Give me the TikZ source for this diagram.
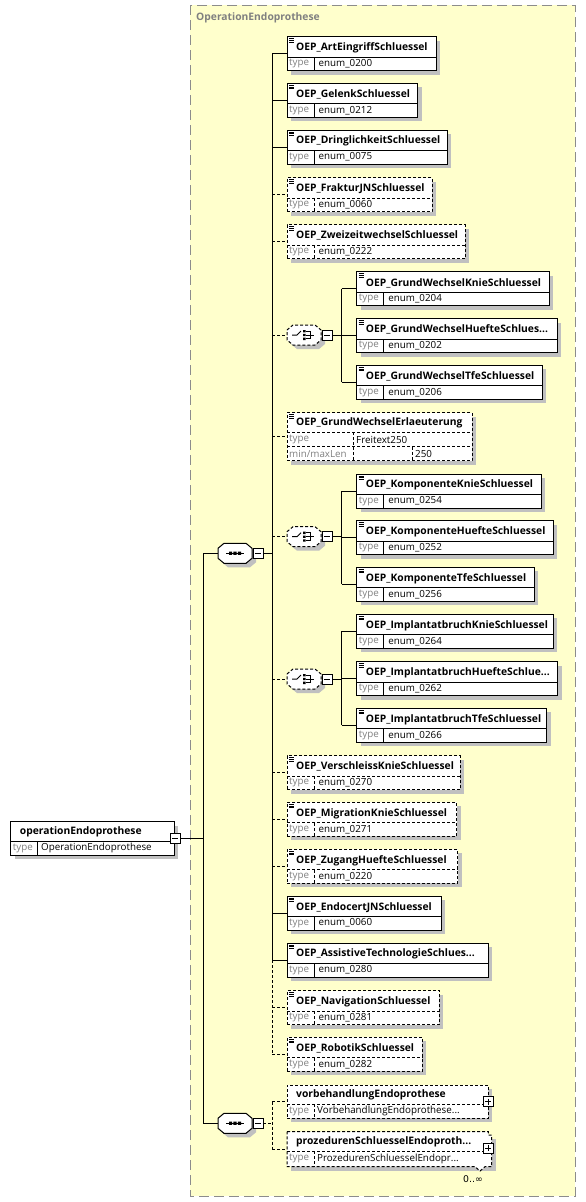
\documentclass[tikz,border=0pt]{standalone}
\usepackage{fontspec}
\setmainfont{Open Sans}
\newfontfamily\dejavu{DejaVu Sans}
\definecolor{grpfill}{RGB}{255,255,204}
\definecolor{grpline}{RGB}{140,140,140}
\definecolor{shadowc}{RGB}{192,192,192}
\definecolor{lblgrey}{RGB}{128,128,128}
\tikzset{
  solidln/.style={line width=1pt},
  dashln/.style={line width=1pt, dash pattern=on 3pt off 2pt},
  titletxt/.style={font=\fontsize{10.3}{12}\selectfont\bfseries, inner sep=0pt, anchor=west},
  typelbl/.style={font=\fontsize{9.8}{11}\selectfont, text=lblgrey, inner sep=0pt, anchor=west},
  typetxt/.style={font=\fontsize{9.8}{11}\selectfont, inner sep=0pt, anchor=west},
  grptitle/.style={font=\fontsize{10.3}{12}\selectfont\bfseries, text=lblgrey, inner sep=0pt, anchor=west},
  boxnode/.style={draw, fill=white, inner sep=0pt, outer sep=0pt, anchor=north west},
}
\newcommand\elicon[2]{%
  \draw[line width=0.5pt] ({#1+2},{#2+1.8}) -- ({#1+7},{#2+1.8})
    ({#1+2},{#2+3.6}) -- ({#1+7},{#2+3.6}) ({#1+2},{#2+5.4}) -- ({#1+7},{#2+5.4});}
% #1 name, #2 style, #3 left, #4 top, #5 right, #6 title, #7 type
\newcommand\elem[7]{%
  \fill[shadowc] ({#3+4},{#4+4}) rectangle ({#5+4},{#4+38});
  \node[boxnode,#2,minimum width={#5-#3},minimum height=34] (#1) at (#3,#4) {};
  \draw[#2] (#3,{#4+20.5}) -- (#5,{#4+20.5});
  \draw[#2] ({#3+27},{#4+20.5}) -- ({#3+27},{#4+34});
  \node[titletxt] (#1t) at ({#3+9},{#4+11.3}) {#6};
  \node[typelbl] (#1l) at ({#3+2},{#4+27}) {type};
  \node[typetxt] (#1v) at ({#3+31.5},{#4+27}) {#7};
  \elicon{#3}{#4}%
}
\newcommand\minusbox[3]{%
  \node[draw,fill=white,line width=0.8pt,minimum size=10,inner sep=0pt,outer sep=0pt,anchor=west] (#1) at ({#2},{#3}) {};
  \draw[line width=0.8pt] ({#2+2},{#3}) -- ({#2+8},{#3});}
\newcommand\plusbox[3]{%
  \node[draw,fill=white,line width=0.8pt,minimum size=10,inner sep=0pt,outer sep=0pt,anchor=center] (#1) at ({#2},{#3}) {};
  \draw[line width=0.8pt] ({#2-3},{#3}) -- ({#2+3},{#3}) ({#2},{#3-3}) -- ({#2},{#3+3});}
% #1 name, #2 L, #3 C, #4 style
\newcommand\octo[4]{%
  \fill[shadowc,shift={({#2+4},{#3+4})}] (0,-5) -- (6,-10) -- (28,-10) -- (34,-5) -- (34,5) -- (28,10) -- (6,10) -- (0,5) -- cycle;
  \draw[#4,fill=white,shift={(#2,#3)}] (0,-5) -- (6,-10) -- (28,-10) -- (34,-5) -- (34,5) -- (28,10) -- (6,10) -- (0,5) -- cycle;
  \coordinate (#1) at (#2,#3);}
\newcommand\seqcomp[3]{%
  \octo{#1}{#2}{#3}{solidln}
  \draw[line width=1pt,shift={(#2,#3)}] (8,0) -- (26,0);
  \fill[shift={(#2,#3)}] (11,-1.6) rectangle (14.2,1.6) (15.4,-1.6) rectangle (18.6,1.6) (19.8,-1.6) rectangle (23,1.6);
  \minusbox{#1m}{#2+35}{#3}}
\newcommand\chocomp[3]{%
  \octo{#1}{#2}{#3}{dashln}
  \draw[line width=1pt,shift={(#2,#3)}] (5,0) -- (10,0) -- (14,-4);
  \fill[shift={(#2,#3)}] (16,-5) rectangle (18.6,-2.6) (16,-1.2) rectangle (18.6,1.2) (16,2.6) rectangle (18.6,5);
  \draw[line width=0.9pt,shift={(#2,#3)}] (18.6,-3.8) -- (23,-3.8) -- (23,3.8) -- (18.6,3.8) (18.6,0) -- (27,0);
  \minusbox{#1m}{#2+35}{#3}}
\begin{document}
\begin{tikzpicture}[x=1pt,y=-1pt]
\useasboundingbox (0,0) rectangle (586,1202);
\fill[white] (0,0) rectangle (586,1202);
\draw[grpline, fill=grpfill, line width=1pt, dash pattern=on 10pt off 5pt] (190,5) rectangle (575,1196);
\node[grptitle] (gtitle) at (196,18) {OperationEndoprothese};
\coordinate (busx) at (272,0);
\coordinate (rootx) at (203,0);
\coordinate (c1x) at (341.7,0);
% root element
\fill[shadowc] (14.7,825.7) rectangle (178.3,859);
\node[boxnode,solidln,minimum width=163.6,minimum height=33.3] (root) at (10.7,821.7) {};
\draw[solidln] (10.7,841.7) -- (174.3,841.7) (37.7,841.7) -- (37.7,855);
\node[titletxt] (roott) at (19.7,832.3) {operationEndoprothese};
\node[typelbl] (rootl) at (12.7,848.3) {type};
\node[typetxt] (rootv) at (41,848.3) {OperationEndoprothese};
\minusbox{rootm}{170}{838.5}
% sequences
\seqcomp{S1}{218}{553.3}
\seqcomp{S2}{218}{1123.3}
% main column
\elem{A1}{solidln}{287}{36.5}{436}{OEP\_ArtEingriffSchluessel}{enum\_0200}
\elem{A2}{solidln}{287}{83.3}{417.7}{OEP\_GelenkSchluessel}{enum\_0212}
\elem{A3}{solidln}{287}{130}{447}{OEP\_DringlichkeitSchluessel}{enum\_0075}
\elem{A4}{dashln}{287}{177.5}{432}{OEP\_FrakturJNSchluessel}{enum\_0060}
\elem{A5}{dashln}{287}{224.5}{465}{OEP\_ZweizeitwechselSchluessel}{enum\_0222}
\chocomp{C1}{287}{335}
\elem{B1}{solidln}{356.7}{271.7}{549}{OEP\_GrundWechselKnieSchluessel}{enum\_0204}
\elem{B2}{solidln}{356.7}{318.5}{557}{OEP\_GrundWechselHuefteSchlues...}{enum\_0202}
\elem{B3}{solidln}{356.7}{365.3}{542}{OEP\_GrundWechselTfeSchluessel}{enum\_0206}
% Erlaeuterung
\fill[shadowc] (291,416.7) rectangle (476,464.7);
\node[boxnode,dashln,minimum width=185,minimum height=48] (A6) at (287,412.7) {};
\draw[dashln] (287,432) -- (472,432) (287,446.7) -- (472,446.7) (353.3,432) -- (353.3,460.7) (412.3,446.7) -- (412.3,460.7);
\elicon{287}{412.7}
\node[titletxt] (A6t) at (296,423) {OEP\_GrundWechselErlaeuterung};
\node[typelbl] (A6l) at (289,439.5) {type};
\node[typelbl] (A6l2) at (289,453.8) {min/maxLen};
\node[typetxt] (A6v) at (356,439.5) {Freitext250};
\node[typetxt] (A6v2) at (415,453.8) {250};
\chocomp{C2}{287}{536.7}
\elem{K1}{solidln}{356.7}{474}{541.3}{OEP\_KomponenteKnieSchluessel}{enum\_0254}
\elem{K2}{solidln}{356.7}{520.7}{553.3}{OEP\_KomponenteHuefteSchluessel}{enum\_0252}
\elem{K3}{solidln}{356.7}{567.3}{534.3}{OEP\_KomponenteTfeSchluessel}{enum\_0256}
\chocomp{C3}{287}{679}
\elem{I1}{solidln}{356.7}{614.3}{553.3}{OEP\_ImplantatbruchKnieSchluessel}{enum\_0264}
\elem{I2}{solidln}{356.7}{661.5}{557.7}{OEP\_ImplantatbruchHuefteSchlue...}{enum\_0262}
\elem{I3}{solidln}{356.7}{708.3}{546.7}{OEP\_ImplantatbruchTfeSchluessel}{enum\_0266}
\elem{A7}{dashln}{287}{755.5}{460}{OEP\_VerschleissKnieSchluessel}{enum\_0270}
\elem{A8}{dashln}{287}{802.3}{456.7}{OEP\_MigrationKnieSchluessel}{enum\_0271}
\elem{A9}{dashln}{287}{849.3}{457.7}{OEP\_ZugangHuefteSchluessel}{enum\_0220}
\elem{A10}{solidln}{287}{896}{441}{OEP\_EndocertJNSchluessel}{enum\_0060}
\elem{A11}{solidln}{287}{943}{488.3}{OEP\_AssistiveTechnologieSchlues...}{enum\_0280}
\elem{A12}{dashln}{287}{990.5}{439.3}{OEP\_NavigationSchluessel}{enum\_0281}
\elem{A13}{dashln}{287}{1037.3}{422.3}{OEP\_RobotikSchluessel}{enum\_0282}
% vorbehandlung
\fill[shadowc] (291,1089) rectangle (492.3,1122.3);
\node[boxnode,dashln,minimum width=201.3,minimum height=33.3] (V) at (287,1085) {};
\draw[dashln] (287,1104) -- (488.3,1104) (314.3,1104) -- (314.3,1118.3);
\node[titletxt] (Vt) at (296,1094.5) {vorbehandlungEndoprothese};
\node[typelbl] (Vl) at (289,1111) {type};
\node[typetxt] (Vv) at (317,1111) {VorbehandlungEndoprothese...};
\plusbox{Vp}{488.3}{1101.5}
% prozeduren
\fill[shadowc] (291,1139) rectangle (495.7,1170.7);
\draw[dashln,fill=white] (287,1131.7) -- (488.3,1131.7) -- (488.3,1135) -- (491.7,1135) -- (491.7,1166.7) -- (485,1166.7) -- (480,1171) -- (475,1166.7) -- (287,1166.7) -- cycle;
\coordinate (P) at (287,1149.2);
\draw[dashln] (287,1151) -- (488.3,1151) (314.3,1151) -- (314.3,1166.7);
\node[titletxt] (Pt) at (296,1141.5) {prozedurenSchluesselEndoproth...};
\node[typelbl] (Pl) at (289,1158.8) {type};
\node[typetxt] (Pv) at (317,1158.8) {ProzedurenSchluesselEndopr...};
\plusbox{Pp}{488.3}{1148}
\node[font=\dejavu\fontsize{9.3}{11}\selectfont, inner sep=0pt] (Pm) at (473,1179.5) {0..∞};
% connectors
\draw[solidln] (rootm.east) -- (rootm.east -| rootx);
\draw[solidln] (S1 -| rootx) -- (S2 -| rootx);
\draw[solidln] (S1 -| rootx) -- (S1);
\draw[solidln] (S2 -| rootx) -- (S2);
\draw[solidln] (S1m.east) -- (S1m.east -| busx);
\draw[solidln] (A1.west -| busx) -- (A11.west -| busx);
\draw[dashln] (A11.west -| busx) -- (A13.west -| busx);
\foreach \n in {A1,A2,A3,A10,A11} {\draw[solidln] (\n.west -| busx) -- (\n.west);}
\foreach \n in {A4,A5,A6,A7,A8,A9,A12,A13} {\draw[dashln] (\n.west -| busx) -- (\n.west);}
\draw[dashln] (C1 -| busx) -- (C1);
\draw[dashln] (C2 -| busx) -- (C2);
\draw[dashln] (C3 -| busx) -- (C3);
\foreach \c/\a/\b/\d in {C1/B1/B2/B3, C2/K1/K2/K3, C3/I1/I2/I3} {
  \draw[solidln] (\c m.east) -- (\c m.east -| c1x);
  \draw[solidln] (\a.west -| c1x) -- (\d.west -| c1x);
  \draw[solidln] (\a.west -| c1x) -- (\a.west);
  \draw[solidln] (\b.west -| c1x) -- (\b.west);
  \draw[solidln] (\d.west -| c1x) -- (\d.west);
}
\draw[dashln] (S2m.east) -- (S2m.east -| busx);
\draw[dashln] (V.west -| busx) -- (P -| busx);
\draw[dashln] (V.west -| busx) -- (V.west);
\draw[dashln] (P -| busx) -- (P);
\end{tikzpicture}
\end{document}
